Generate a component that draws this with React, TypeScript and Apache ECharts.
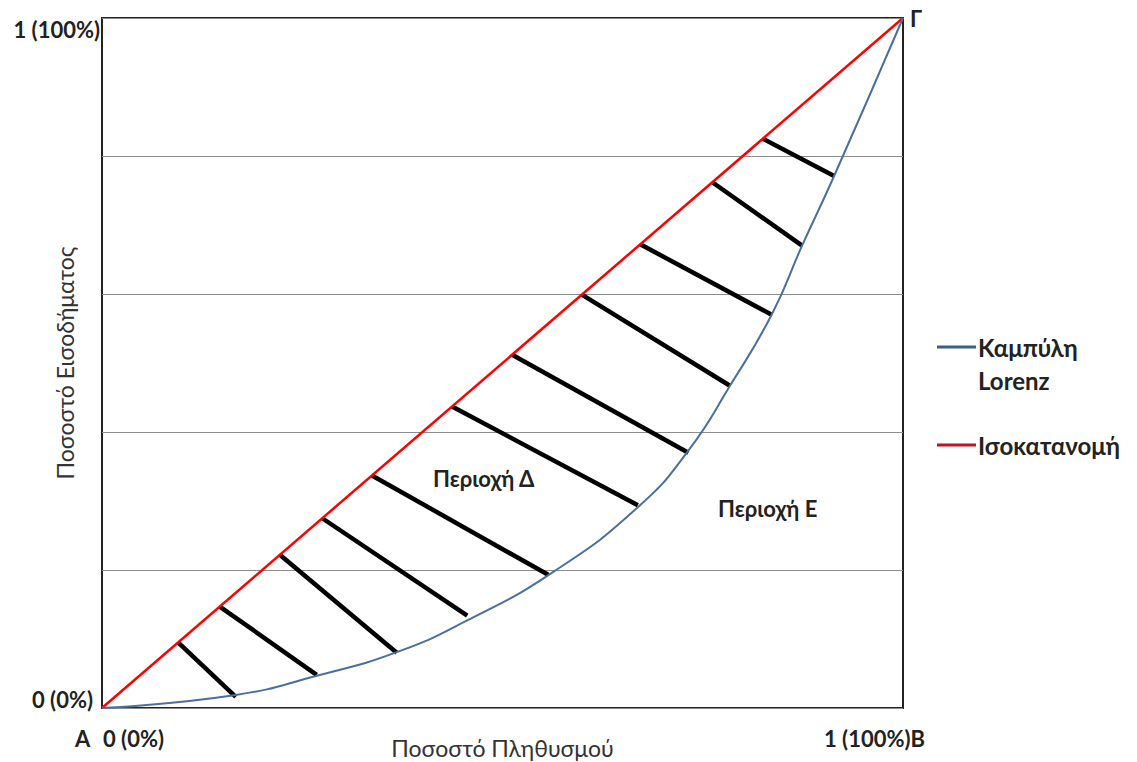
import React, { useEffect, useRef } from "react";
import * as echarts from "echarts";

// Lorenz curve points (share of population, share of income)
const lorenzX = [0, 0.167, 0.266, 0.368, 0.456, 0.563, 0.669, 0.732, 0.784, 0.836, 0.874, 0.914, 1];
const lorenzY = [0, 0.019, 0.046, 0.081, 0.127, 0.197, 0.291, 0.373, 0.467, 0.57, 0.67, 0.771, 1];
// Line of equality
const equalityX = [0, 1];
const equalityY = [0, 1];
// Hatch segments between equality line and Lorenz curve
const hatchStart = [0.095, 0.147, 0.222, 0.275, 0.337, 0.437, 0.512, 0.599, 0.672, 0.762, 0.825];
const hatchEndX = [0.167, 0.268, 0.368, 0.456, 0.557, 0.669, 0.732, 0.784, 0.836, 0.874, 0.914];
const hatchEndY = [0.016, 0.048, 0.08, 0.134, 0.193, 0.294, 0.37, 0.467, 0.57, 0.67, 0.771];

const seriesNames = ["Καμπύλη Lorenz", "Ισοκατανομή"];
const xTitle = "Ποσοστό Πληθυσμού";
const yTitle = "Ποσοστό Εισοδήματος";
const areaLabels = ["Περιοχή Δ", "Περιοχή Ε"];

const FONT = "Lato, 'Open Sans', 'Noto Sans', sans-serif";
const BLUE = "#4a6f9f";
const RED = "#ff0000";

export default function App() {
  const ref = useRef<HTMLDivElement>(null);
  useEffect(() => {
    if (!ref.current) return;
    const chart = echarts.init(ref.current, null, { renderer: "svg" });
    const hatchSeries = hatchStart.map((s, i) => ({
      type: "line" as const,
      name: "hatch" + i,
      data: [
        [s, s],
        [hatchEndX[i], hatchEndY[i]],
      ],
      symbol: "none",
      lineStyle: { color: "#000", width: 4.5 },
      silent: true,
      z: 2,
    }));
    const boldText = (text: string, x: number, y: number, align: string, size = 22) => ({
      type: "text",
      x,
      y,
      style: {
        text,
        fontFamily: FONT,
        fontWeight: "bold",
        fontSize: size,
        fill: "#222",
        align,
        verticalAlign: "middle",
      },
    });
    chart.setOption({
      animation: false,
      backgroundColor: "#fff",
      textStyle: { fontFamily: FONT },
      grid: {
        left: 102,
        top: 18,
        width: 801,
        height: 690,
        show: true,
        borderColor: "#222",
        borderWidth: 2,
        backgroundColor: "transparent",
        outerBoundsMode: "none",
        containLabel: false,
      },
      xAxis: {
        type: "value",
        min: 0,
        max: 1,
        axisLine: { show: false },
        axisTick: { show: false },
        axisLabel: { show: false },
        splitLine: { show: false },
        name: xTitle,
        nameLocation: "middle",
        nameGap: 28,
        nameTextStyle: { fontFamily: FONT, fontSize: 23, color: "#333" },
      },
      yAxis: {
        type: "value",
        min: 0,
        max: 1,
        interval: 0.2,
        axisLine: { show: false },
        axisTick: { show: false },
        axisLabel: { show: false },
        splitLine: { show: true, lineStyle: { color: "#8c8c8c", width: 1.2 } },
        name: yTitle,
        nameLocation: "middle",
        nameGap: 26,
        nameTextStyle: { fontFamily: FONT, fontSize: 23, color: "#333" },
      },
      series: [
        ...hatchSeries,
        {
          type: "line",
          name: seriesNames[1],
          data: equalityX.map((x, i) => [x, equalityY[i]]),
          symbol: "none",
          lineStyle: { color: RED, width: 2.5 },
          z: 3,
        },
        {
          type: "line",
          name: seriesNames[0],
          data: lorenzX.map((x, i) => [x, lorenzY[i]]),
          symbol: "none",
          smooth: 0.5,
          lineStyle: { color: BLUE, width: 2 },
          z: 3,
        },
      ],
      graphic: [
        boldText("1 (100%)", 100, 29, "right"),
        boldText("0 (0%)", 93, 699, "right"),
        boldText("A", 75, 738, "left"),
        boldText("0 (0%)", 103, 738, "left"),
        boldText("1 (100%)B", 925, 738, "right"),
        boldText("Γ", 910, 18, "left"),
        boldText(areaLabels[0], 433, 478, "left"),
        boldText(areaLabels[1], 718, 508, "left"),
        {
          type: "line",
          shape: { x1: 937, y1: 347, x2: 976, y2: 347 },
          style: { stroke: "#3f5f86", lineWidth: 3 },
        },
        boldText("Καμπύλη", 978, 347, "left", 24),
        boldText("Lorenz", 978, 380, "left", 24),
        {
          type: "line",
          shape: { x1: 937, y1: 445, x2: 976, y2: 445 },
          style: { stroke: "#c0141c", lineWidth: 3 },
        },
        boldText("Ισοκατανομή", 978, 445, "left", 24),
      ],
    });
    return () => chart.dispose();
  }, []);
  return (
    <div
      ref={ref}
      style={{ position: "absolute", left: 0, top: 0, width: 1137, height: 762 }}
    />
  );
}
